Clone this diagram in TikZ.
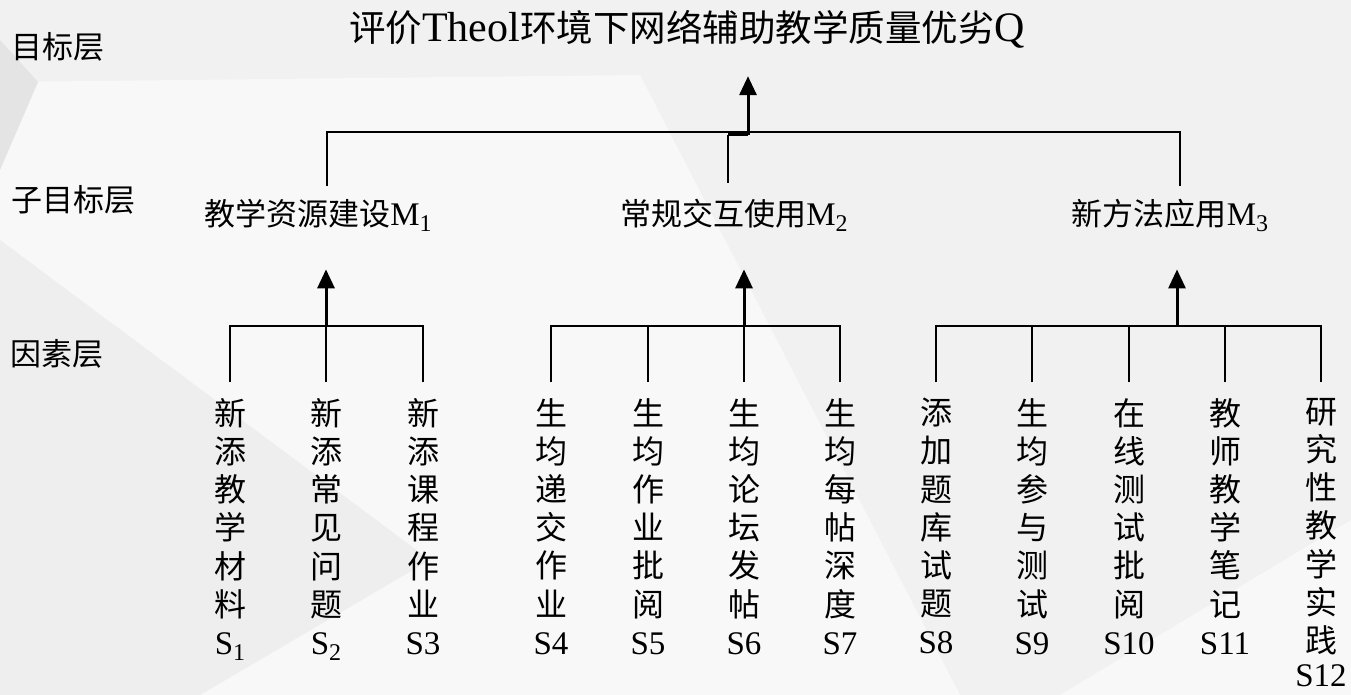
\documentclass[tikz,border=0pt]{standalone}
\usepackage{fontspec}
\setmainfont{Liberation Serif}
\newfontfamily\cjk{Noto Sans CJK SC}
\usetikzlibrary{arrows.meta,calc}
\newcommand\mysub[1]{\raisebox{-6pt}{\fontsize{24}{24}\selectfont\rmfamily #1}}
\newcommand\lat[2][33]{{\fontsize{#1}{#1}\selectfont\rmfamily #2}}
\definecolor{bgbase}{HTML}{F1F1F1}
\definecolor{bglight}{HTML}{F8F8F8}
\definecolor{bgdark}{HTML}{E4E4E4}
\definecolor{bgmid}{HTML}{EEEEEE}
\begin{document}
\begin{tikzpicture}[x=1pt,y=-1pt,
  ln/.style={line width=1.5pt, black},
  arr/.style={line width=3pt, -{Triangle[width=17pt,length=19pt]}},
  lay/.style={font=\cjk\fontsize{31}{31}\selectfont, inner sep=0pt},
  mlab/.style={font=\cjk\fontsize{31}{31}\selectfont, inner sep=0pt},
  col/.style={font=\cjk\fontsize{32}{38.2}\selectfont, align=center, anchor=north, inner sep=0pt}]
% background
\fill[bgbase] (0,0) rectangle (1351,695);
\fill[bglight] (0,82) -- (640,75) -- (960,695) -- (0,695) -- cycle;
\fill[bgdark] (0,40) -- (38,82) -- (0,170) -- cycle;
\fill[bgmid] (0,240) -- (430,560) -- (200,695) -- (0,695) -- cycle;
\fill[bglight] (1060,695) -- (1351,520) -- (1351,695) -- cycle;
\useasboundingbox (0,0) rectangle (1351,695);

% title and layer labels
\node[font=\cjk\fontsize{36.5}{36.5}\selectfont, inner sep=0pt] (title) at (687,29)
  {评价\lat[42]{Theol}环境下网络辅助教学质量优劣\lat[42]{Q}};
\node[lay] (L1) at (58,47) {目标层};
\node[lay] (L2) at (73,200) {子目标层};
\node[lay] (L3) at (57,354) {因素层};

% sub-goal nodes
\node[mlab] (m1) at (318,215) {教学资源建设\lat{M}\mysub{1}};
\node[mlab] (m2) at (734,215) {常规交互使用\lat{M}\mysub{2}};
\node[mlab] (m3) at (1170,215) {新方法应用\lat{M}\mysub{3}};

% factor columns
\node[col] (s1)  at (230,398)  {新\\添\\教\\学\\材\\料\\\lat{S}\mysub{1}};
\node[col] (s2)  at (326,398)  {新\\添\\常\\见\\问\\题\\\lat{S}\mysub{2}};
\node[col] (s3)  at (423,398)  {新\\添\\课\\程\\作\\业\\\lat{S3}};
\node[col] (s4)  at (551,398)  {生\\均\\递\\交\\作\\业\\\lat{S4}};
\node[col] (s5)  at (648,398)  {生\\均\\作\\业\\批\\阅\\\lat{S5}};
\node[col] (s6)  at (744,398)  {生\\均\\论\\坛\\发\\帖\\\lat{S6}};
\node[col] (s7)  at (840,398)  {生\\均\\每\\帖\\深\\度\\\lat{S7}};
\node[col] (s8)  at (936,398)  {添\\加\\题\\库\\试\\题\\\lat{S8}};
\node[col] (s9)  at (1032,398) {生\\均\\参\\与\\测\\试\\\lat{S9}};
\node[col] (s10) at (1129,398) {在\\线\\测\\试\\批\\阅\\\lat{S10}};
\node[col] (s11) at (1225,398) {教\\师\\教\\学\\笔\\记\\\lat{S11}};
\node[col] (s12) at (1321,398) {研\\究\\性\\教\\学\\实\\践\\[-4pt]\lat{S12}};

% junctions
\coordinate (g1) at (326,326);
\coordinate (g2) at (744,326);
\coordinate (g3) at (1177,326);
\coordinate (j1) at (327,132);
\coordinate (j3) at (1180,132);
\coordinate (j2) at (728,135);
\coordinate (jq) at (748,135);

% factor brackets
\foreach \s/\g in {s1/g1,s2/g1,s3/g1,s4/g2,s5/g2,s6/g2,s7/g2,s8/g3,s9/g3,s10/g3,s11/g3,s12/g3}
  \draw[ln] ($(\s.north)+(0,-16)$) |- (\g);

% arrows to sub-goals
\draw[arr, shorten >=38pt] (g1) -- (g1 |- m1.south);
\draw[arr, shorten >=38pt] (g2) -- (g2 |- m2.south);
\draw[arr, shorten >=38pt] (g3) -- (g3 |- m3.south);

% top bracket
\draw[ln] ($(m1.north -| j1)+(0,-13)$) -- (j1) -- (j3) -- ($(m3.north -| j3)+(0,-13)$);
\draw[ln] ($(m2.north -| j2)+(0,-16)$) -- (j2);
\draw[line width=3pt] (j2) -- (jq);
\draw[arr, shorten >=28pt] (jq) -- (title.south -| jq);
\end{tikzpicture}
\end{document}
